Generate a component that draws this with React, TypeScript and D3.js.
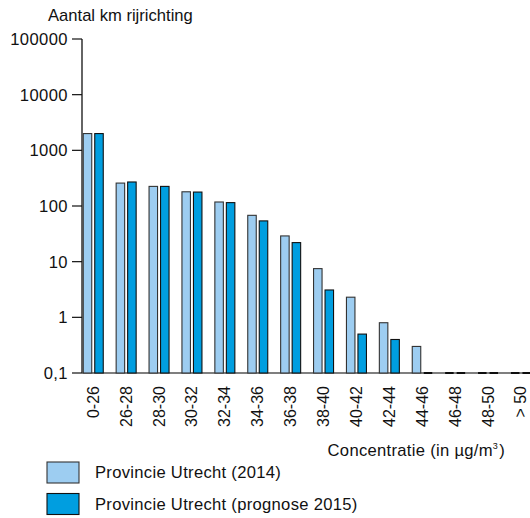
import React from "react";
import * as d3 from "d3";

const categories = ["0-26", "26-28", "28-30", "30-32", "32-34", "34-36", "36-38", "38-40", "40-42", "42-44", "44-46", "46-48", "48-50", "> 50"];
const series2014 = [2000, 258, 225, 180, 118, 68, 29, 7.5, 2.3, 0.8, 0.3, 0, 0, 0];
const series2015 = [2000, 270, 225, 178, 115, 54, 22, 3.1, 0.5, 0.4, 0, 0, 0, 0];
const yTicks = [100000, 10000, 1000, 100, 10, 1, 0.1];
const yTickLabels = ["100000", "10000", "1000", "100", "10", "1", "0,1"];
const seriesNames = ["Provincie Utrecht (2014)", "Provincie Utrecht (prognose 2015)"];
const colors = ["#9dcdf1", "#009ee0"];
const strokes = ["#333333", "#111111"];

const W = 530;
const H = 518;
const FONT = "Liberation Sans, Arial, sans-serif";
const FS = 16;
const FSH = 16.6;

export default function App() {
  const axisX = 82;
  const y = d3.scaleLog().domain([0.1, 100000]).range([373, 39]);
  const x = d3.scaleBand<string>().domain(categories).range([76.8, 76.8 + 14 * 32.9]).padding(0);
  const baseY = y(0.1);
  const barW = 8.5;
  const allSeries = [series2014, series2015];
  const offsets = [-10, 1.5];

  return (
    <svg width={W} height={H} style={{ position: "absolute", left: 0, top: 0, background: "#fff" }} fontFamily={FONT}>
      <text x={48} y={21} fontSize={FSH} fill="#111">Aantal km rijrichting</text>
      {/* y axis */}
      <line x1={axisX} x2={axisX} y1={y(100000)} y2={baseY} stroke="#111" strokeWidth={1.3} />
      {yTicks.map((t, i) => (
        <g key={t}>
          <line x1={axisX - 10} x2={axisX} y1={y(t)} y2={y(t)} stroke="#111" strokeWidth={1.2} />
          <text x={68} y={y(t) + 6} fontSize={FSH} textAnchor="end" fill="#111" letterSpacing={0.4}>{yTickLabels[i]}</text>
        </g>
      ))}
      {/* x axis baseline */}
      <line x1={axisX} x2={W} y1={baseY} y2={baseY} stroke="#555" strokeWidth={1.5} />
      {/* bars */}
      {allSeries.map((s, si) =>
        s.map((v, i) => {
          const cx = (x(categories[i]) as number) + x.bandwidth() / 2;
          const bx = cx + offsets[si];
          if (v <= 0.1) {
            return <line key={si + "-" + i} x1={bx} x2={bx + barW} y1={baseY} y2={baseY} stroke="#000" strokeWidth={1.8} />;
          }
          const top = y(v);
          return (
            <rect key={si + "-" + i} x={bx} y={top} width={barW} height={baseY - top} fill={colors[si]} stroke={strokes[si]} strokeWidth={1.1} />
          );
        })
      )}
      {/* x labels */}
      {categories.map((c) => {
        const cx = (x(c) as number) + x.bandwidth() / 2;
        return (
          <text key={c} transform={`translate(${cx + 5.5},386) rotate(-90)`} fontSize={FS} textAnchor="end" fill="#111">{c}</text>
        );
      })}
      <text x={505} y={456} fontSize={FSH} textAnchor="end" fill="#111" letterSpacing={0.3}>
        Concentratie (in µg/m<tspan dy={-7} fontSize={9}>3</tspan><tspan dy={7} dx={1}>)</tspan>
      </text>
      {/* legend */}
      {seriesNames.map((n, i) => (
        <g key={n}>
          <rect x={47} y={462 + i * 31.5} width={32} height={21} fill={colors[i]} stroke={strokes[i]} strokeWidth={1.1} />
          <text x={95} y={478 + i * 31.5} fontSize={FSH} fill="#111" letterSpacing={0.3}>{n}</text>
        </g>
      ))}
    </svg>
  );
}
